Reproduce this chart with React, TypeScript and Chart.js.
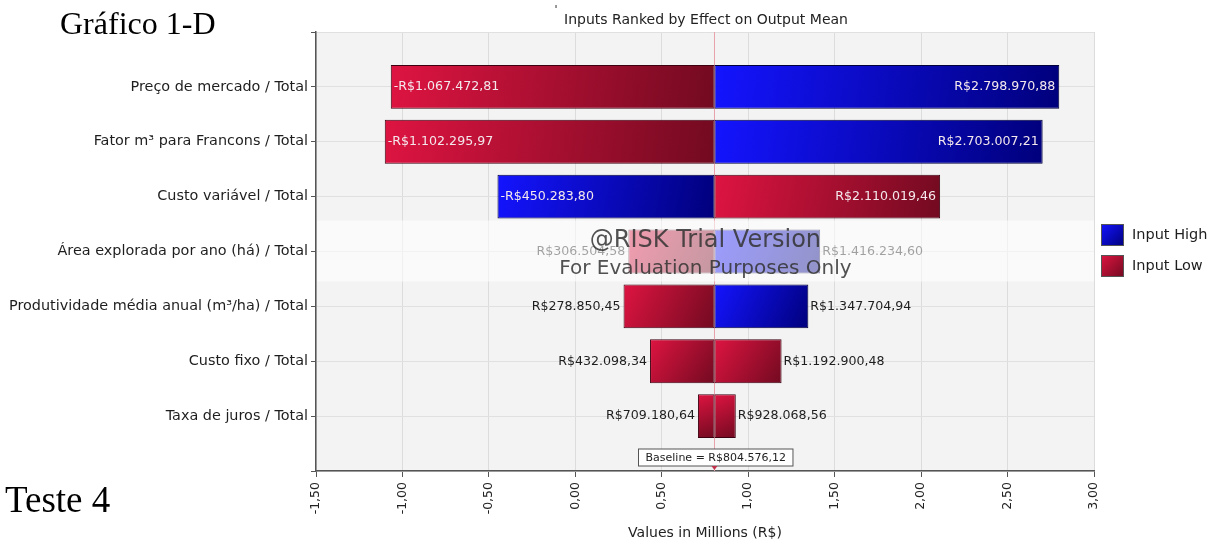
import React, { useEffect, useRef } from 'react';
import { Chart, registerables } from 'chart.js';

Chart.register(...registerables);

const chartTitle = 'Inputs Ranked by Effect on Output Mean';
const xAxisTitle = 'Values in Millions (R$)';
const categories = [
  'Preço de mercado / Total',
  'Fator m³ para Francons / Total',
  'Custo variável / Total',
  'Área explorada por ano (há) / Total',
  'Produtividade média anual (m³/ha) / Total',
  'Custo fixo / Total',
  'Taxa de juros / Total',
];
const baselineValue = 804576.12;
const leftValues = [-1067472.81, -1102295.97, -450283.8, 306504.58, 278850.45, 432098.34, 709180.64];
const rightValues = [2798970.88, 2703007.21, 2110019.46, 1416234.6, 1347704.94, 1192900.48, 928068.56];
const leftInput = ['Low', 'Low', 'High', 'Low', 'Low', 'Low', 'Low'];
const rightInput = ['High', 'High', 'Low', 'High', 'High', 'Low', 'Low'];
const legendLabels = ['Input High', 'Input Low'];
const xMin = -1.5;
const xMax = 3.0;
const xStep = 0.5;
const watermarkLines = ['@RISK Trial Version', 'For Evaluation Purposes Only'];
const watermarkRow = 3;
const headerText = 'Gráfico 1-D';
const footerText = 'Teste 4';

const FONT = '"DejaVu Sans", Verdana, sans-serif';
const GRAD: Record<string, [string, string, string]> = {
  High: ['#1414ff', '#00007c', '#00003a'],
  Low: ['#de1441', '#720a20', '#3c0010'],
};

function fmtMoney(v: number): string {
  const neg = v < 0;
  const [i, d] = Math.abs(v).toFixed(2).split('.');
  const ip = i.replace(/\B(?=(\d{3})+(?!\d))/g, '.');
  return (neg ? '-' : '') + 'R$' + ip + ',' + d;
}

function barFill(c: any, kind: string, border = false) {
  const cols = GRAD[kind] || GRAD.Low;
  if (border) return cols[2];
  const chart = c.chart;
  if (c.type !== 'data' || !chart.chartArea || !c.raw) return cols[0];
  const xs = chart.scales.x;
  const ys = chart.scales.y;
  const a = xs.getPixelForValue(Math.min(c.raw[0], c.raw[1]));
  const b = xs.getPixelForValue(Math.max(c.raw[0], c.raw[1]));
  const yc = ys.getPixelForValue(c.dataIndex);
  const half = Math.abs(ys.getPixelForValue(1) - ys.getPixelForValue(0)) * 0.4;
  const g = chart.ctx.createLinearGradient(a, yc - half, b, yc + half);
  g.addColorStop(0, cols[0]);
  g.addColorStop(1, cols[1]);
  return g;
}

export default function App() {
  const ref = useRef<HTMLCanvasElement>(null);

  useEffect(() => {
    if (!ref.current) return;
    const base = baselineValue / 1e6;
    const labels = ['', ...categories, ''];
    const leftData = [null, ...leftValues.map((v) => [base, v / 1e6]), null];
    const rightData = [null, ...rightValues.map((v) => [base, v / 1e6]), null];
    const kinds = [leftInput, rightInput];

    const decor = {
      id: 'decor',
      beforeDraw(chart: any) {
        const { ctx, chartArea: a } = chart;
        ctx.save();
        ctx.fillStyle = '#ffffff';
        ctx.fillRect(0, 0, chart.width, chart.height);
        ctx.fillStyle = '#f3f3f3';
        ctx.fillRect(a.left, a.top, a.right - a.left, a.bottom - a.top);
        ctx.restore();
      },
      beforeDatasetsDraw(chart: any) {
        const { ctx, chartArea: a } = chart;
        const bx = chart.scales.x.getPixelForValue(base);
        ctx.save();
        ctx.strokeStyle = '#e8a2ab';
        ctx.lineWidth = 1;
        ctx.beginPath();
        ctx.moveTo(Math.round(bx) + 0.5, a.top);
        ctx.lineTo(Math.round(bx) + 0.5, a.bottom);
        ctx.stroke();
        ctx.restore();
      },
      afterDatasetsDraw(chart: any) {
        const { ctx } = chart;
        ctx.save();
        ctx.font = '12.6px ' + FONT;
        ctx.textBaseline = 'middle';
        [0, 1].forEach((di) => {
          const meta = chart.getDatasetMeta(di);
          const vals = di === 0 ? leftValues : rightValues;
          meta.data.forEach((el: any, idx: number) => {
            if (idx === 0 || idx > vals.length) return;
            const v = vals[idx - 1];
            const { x, base: b, y } = el.getProps(['x', 'base', 'y'], true);
            const lo = Math.min(x, b);
            const hi = Math.max(x, b);
            const text = fmtMoney(v);
            const tw = ctx.measureText(text).width;
            const inside = hi - lo >= tw + 8;
            ctx.fillStyle = inside ? '#f4e8ec' : '#1e1e1e';
            if (di === 0) {
              if (inside) {
                ctx.textAlign = 'left';
                ctx.fillText(text, lo + 3, y);
              } else {
                ctx.textAlign = 'right';
                ctx.fillText(text, lo - 3, y);
              }
            } else {
              if (inside) {
                ctx.textAlign = 'right';
                ctx.fillText(text, hi - 4, y);
              } else {
                ctx.textAlign = 'left';
                ctx.fillText(text, hi + 2, y);
              }
            }
          });
        });
        ctx.restore();
      },
      afterDraw(chart: any) {
        const { ctx, chartArea: a } = chart;
        const xs = chart.scales.x;
        const ys = chart.scales.y;
        const cx = (a.left + a.right) / 2;
        const bx = xs.getPixelForValue(base);
        ctx.save();
        // watermark band
        const yc = ys.getPixelForValue(watermarkRow + 1);
        ctx.fillStyle = 'rgba(255,255,255,0.58)';
        ctx.fillRect(a.left + 1, yc - 31, a.right - a.left - 1, 61);
        ctx.fillStyle = 'rgba(50,50,50,0.85)';
        ctx.textAlign = 'center';
        ctx.textBaseline = 'alphabetic';
        ctx.font = '24px ' + FONT;
        ctx.fillText(watermarkLines[0], bx - 9, yc - 5);
        ctx.font = '20px ' + FONT;
        ctx.fillText(watermarkLines[1], bx - 9, yc + 22);

        // title
        ctx.fillStyle = '#222';
        ctx.font = '14px ' + FONT;
        ctx.textBaseline = 'middle';
        ctx.fillText(chartTitle, cx + 1, 20);
        ctx.font = '11px ' + FONT;
        ctx.fillText("'", 556, 10);

        // baseline box
        ctx.font = '11px ' + FONT;
        const bt = 'Baseline = ' + fmtMoney(baselineValue);
        const bw = ctx.measureText(bt).width + 14;
        const bxl = Math.round(bx - bw / 2 + 1) + 0.5;
        ctx.fillStyle = '#ffffff';
        ctx.fillRect(bxl, a.bottom - 22, bw, 17);
        ctx.strokeStyle = '#555';
        ctx.lineWidth = 1;
        ctx.strokeRect(bxl, a.bottom - 22, bw, 17);
        ctx.fillStyle = '#222';
        ctx.fillText(bt, bxl + bw / 2, a.bottom - 13);
        ctx.fillStyle = '#c0304a';
        ctx.beginPath();
        ctx.moveTo(bx - 3, a.bottom - 5);
        ctx.lineTo(bx + 3, a.bottom - 5);
        ctx.lineTo(bx, a.bottom - 1);
        ctx.closePath();
        ctx.fill();

        // legend
        legendLabels.forEach((lab, i) => {
          const kind = i === 0 ? 'High' : 'Low';
          const cols = GRAD[kind];
          const lx = a.right + 7;
          const ly = a.top + 192 + i * 31;
          const g = ctx.createLinearGradient(lx, ly, lx + 23, ly + 22);
          g.addColorStop(0, cols[0]);
          g.addColorStop(1, cols[1]);
          ctx.fillStyle = g;
          ctx.fillRect(lx, ly, 23, 22);
          ctx.strokeStyle = '#555';
          ctx.strokeRect(lx + 0.5, ly + 0.5, 22, 21);
          ctx.fillStyle = '#1e1e1e';
          ctx.font = '14.5px ' + FONT;
          ctx.textAlign = 'left';
          ctx.fillText(lab, lx + 31, ly + 11);
        });

        // outside texts
        ctx.fillStyle = '#000';
        ctx.textAlign = 'left';
        ctx.textBaseline = 'alphabetic';
        ctx.font = '32px "Liberation Serif", "Times New Roman", serif';
        ctx.fillText(headerText, 60, 34);
        ctx.font = '37px "Liberation Serif", "Times New Roman", serif';
        ctx.fillText(footerText, 5, 512);
        ctx.restore();
      },
    };

    const chart = new Chart(ref.current, {
      type: 'bar',
      data: {
        labels,
        datasets: [0, 1].map((di) => ({
          label: di === 0 ? 'left' : 'right',
          data: (di === 0 ? leftData : rightData) as any,
          grouped: false,
          categoryPercentage: 0.8,
          barPercentage: 1,
          borderWidth: 1,
          borderSkipped: false,
          backgroundColor: (c: any) => barFill(c, kinds[di][c.dataIndex - 1]),
          borderColor: (c: any) => barFill(c, kinds[di][c.dataIndex - 1], true),
        })),
      },
      options: {
        indexAxis: 'y',
        animation: false,
        responsive: false,
        devicePixelRatio: 1,
        layout: { padding: { top: 32, right: 121, left: 0, bottom: 0 } },
        plugins: { legend: { display: false }, tooltip: { enabled: false }, title: { display: false } },
        scales: {
          x: {
            type: 'linear',
            min: xMin,
            max: xMax,
            afterFit: (s: any) => {
              s.height = 71;
            },
            ticks: {
              stepSize: xStep,
              minRotation: 90,
              maxRotation: 90,
              padding: 5,
              color: '#222',
              font: { family: FONT, size: 12.5 },
              callback: (v: any) => Number(v).toFixed(2).replace('.', ','),
            },
            grid: { color: '#dcdcdc', tickColor: '#555', tickLength: 6 },
            border: { color: '#555', width: 1.5 },
            title: {
              display: true,
              text: xAxisTitle,
              color: '#222',
              font: { family: FONT, size: 14 },
              padding: { top: 0, bottom: 0 },
            },
          },
          y: {
            type: 'category',
            offset: false,
            afterFit: (s: any) => {
              s.width = 316;
            },
            ticks: {
              autoSkip: false,
              padding: 3,
              color: '#1e1e1e',
              font: { family: FONT, size: 14.4 },
            },
            grid: { color: '#e0e0e0', tickColor: '#555', tickLength: 5, offset: false },
            border: { color: '#555', width: 1.5 },
          },
        },
      } as any,
      plugins: [decor],
    });
    return () => chart.destroy();
  }, []);

  return (
    <div style={{ position: 'fixed', left: 0, top: 0, width: 1215, height: 542, background: '#fff' }}>
      <canvas ref={ref} width={1215} height={542} style={{ display: 'block', width: 1215, height: 542 }} />
    </div>
  );
}
